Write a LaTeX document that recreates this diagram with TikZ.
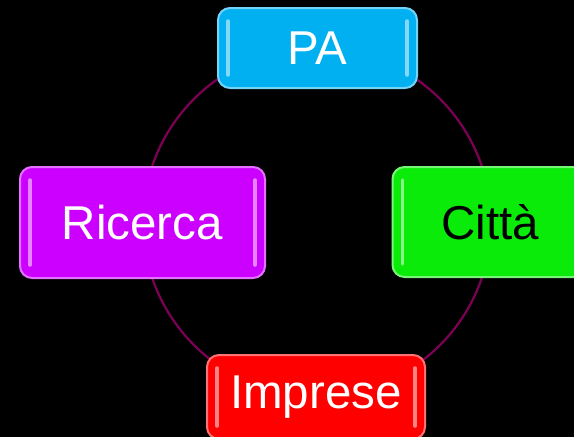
\documentclass[tikz,border=0pt]{standalone}
\usepackage{fontspec}
\setmainfont{Liberation Sans}
\usetikzlibrary{positioning}

\definecolor{paBlue}{RGB}{0,176,240}
\definecolor{cittaGreen}{RGB}{10,235,10}
\definecolor{ricercaViolet}{RGB}{204,0,255}
\definecolor{impreseRed}{RGB}{255,0,0}
\definecolor{ringPlum}{RGB}{125,0,85}

% glossy rounded box with two light bars inside its short sides
\newcommand{\glossyBox}[7]
{
	\node [box, fill=#3, draw=#3!55!white, text=#4,
	minimum width=#5pt, minimum height=#6pt
	](#1) at #2 {#7};
	\draw[bar, #3!35!white]([xshift= 11pt,yshift=-14pt]#1.north west)-- ([xshift= 11pt,yshift= 14pt]#1.south west);
	\draw[bar, #3!35!white]([xshift=-11pt,yshift=-14pt]#1.north east)-- ([xshift=-11pt,yshift= 14pt]#1.south east);
}

\begin{document}
\begin{tikzpicture}[x=1pt,y=-1pt,
	box/.style={rounded corners=12pt, line width=2pt, inner sep=0pt,
		font=\fontsize{47.5}{52}\selectfont},
	bar/.style={line width=3.5pt, line cap=round, opacity=0.8},
	ring/.style={draw=ringPlum, line width=2.2pt}]
\useasboundingbox (0,0) rectangle (574,437);
\clip (0,0) rectangle (574,437);
\fill[black] (0,0) rectangle (574,437);

\coordinate (hub) at (317,222);
\draw[ring] (hub) circle[radius=174pt];

\glossyBox{pa}{(317.5,48)}{paBlue}{white}{199}{80}{PA}
\glossyBox{ricerca}{(142.5,222.5)}{ricercaViolet}{white}{245}{111}{Ricerca}
\glossyBox{citta}{(490,222)}{cittaGreen}{black}{195}{110}{Città}
\glossyBox{imprese}{(316,397)}{impreseRed}{white}{218}{84}{Imprese}
\end{tikzpicture}
\end{document}
